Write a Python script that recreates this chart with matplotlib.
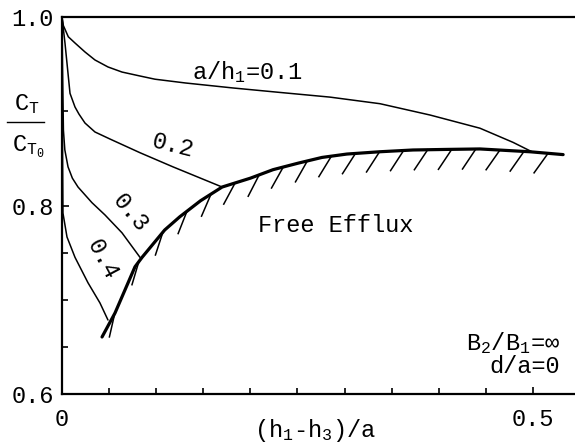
import numpy as np
import matplotlib
matplotlib.use("Agg")
import matplotlib.pyplot as plt
from matplotlib.lines import Line2D

plt.rcParams['font.family'] = ['Liberation Mono', 'DejaVu Sans Mono']
plt.rcParams['mathtext.default'] = 'regular'

# curves: x = (h1-h3)/a, y = CT/CT0
x_01 = [0, 0.0014, 0.0067, 0.0138, 0.0244, 0.035, 0.0488, 0.0637, 0.0828, 0.0987, 0.131, 0.1815,
        0.231, 0.2845, 0.3376, 0.3907, 0.4437, 0.4788, 0.4989]
y_01 = [1.0, 0.991, 0.979, 0.9724, 0.9629, 0.9544, 0.947, 0.9416, 0.9374, 0.934, 0.930, 0.9247,
        0.920, 0.915, 0.908, 0.896, 0.882, 0.867, 0.857]

x_02 = [0, 0.0032, 0.0067, 0.0085, 0.0138, 0.018, 0.0244, 0.035, 0.051, 0.0828, 0.1178, 0.170]
y_02 = [1.0, 0.972, 0.937, 0.919, 0.9045, 0.897, 0.8875, 0.878, 0.8705, 0.856, 0.841, 0.8196]

x_03 = [0, 0.0005, 0.0015, 0.003, 0.0064, 0.011, 0.017, 0.0318, 0.0456, 0.0637, 0.0828]
y_03 = [1.0, 0.95, 0.88, 0.859, 0.841, 0.829, 0.8196, 0.803, 0.790, 0.771, 0.745]

x_04 = [0, 0.0003, 0.001, 0.0053, 0.0138, 0.0276, 0.0403, 0.0488]
y_04 = [1.0, 0.90, 0.792, 0.7666, 0.745, 0.718, 0.6966, 0.6785]

x_free = [0.0425, 0.0563, 0.0775, 0.085, 0.109, 0.125, 0.147, 0.170, 0.200, 0.224, 0.251, 0.276,
          0.3025, 0.337, 0.3726, 0.408, 0.4437, 0.497, 0.532]
y_free = [0.6605, 0.686, 0.735, 0.745, 0.774, 0.788, 0.805, 0.8196, 0.829, 0.838, 0.845, 0.851,
          0.8546, 0.857, 0.8589, 0.8595, 0.860, 0.857, 0.854]

curve_labels = ['a/h$_1$=0.1', '0.2', '0.3', '0.4']

fig = plt.figure(figsize=(5.75, 4.48), dpi=100)
ax = fig.add_axes([62/575, 54/448, 513/575, 377/448])
ax.set_xlim(0, 0.5446)
ax.set_ylim(0.6, 1.0)

for xs, ys in [(x_01, y_01), (x_02, y_02), (x_03, y_03), (x_04, y_04)]:
    ax.plot(xs, ys, color='black', lw=1.1, solid_capstyle='round', solid_joinstyle='round')

ax.plot(x_free, y_free, color='black', lw=2.3, solid_capstyle='round', solid_joinstyle='round')

# hatching below the free efflux boundary
xf = np.array(x_free)
yf = np.array(y_free)
hx = np.linspace(0.056, 0.516, 19)
hy = np.interp(hx, xf, yf)
dx = 0.004
slope = (np.interp(hx + dx, xf, yf) - np.interp(hx - dx, xf, yf)) / (2 * dx)
tang = np.degrees(np.arctan(slope))
ang = np.radians(236 + 0.33 * tang)
hl = 0.0255
for x0, y0, a in zip(hx, hy, ang):
    ax.plot([x0, x0 + hl * np.cos(a)], [y0, y0 + hl * np.sin(a)], color='black', lw=1.1)

fs = 17
ax.text(0.197, 0.942, curve_labels[0], fontsize=fs, ha='center', va='center')
ax.text(0.118, 0.863, curve_labels[1], fontsize=fs, ha='center', va='center', rotation=-14)
ax.text(0.072, 0.792, curve_labels[2], fontsize=fs, ha='center', va='center', rotation=-50)
ax.text(0.0425, 0.743, curve_labels[3], fontsize=fs, ha='center', va='center', rotation=-62)
ax.text(0.291, 0.779, 'Free Efflux', fontsize=fs, ha='center', va='center')
ax.text(0.529, 0.654, 'B$_2$/B$_1$=\u221e', fontsize=fs, ha='right', va='center')
ax.text(0.529, 0.629, 'd/a=0', fontsize=fs, ha='right', va='center')

ax.spines['right'].set_visible(False)
for s in ['left', 'top', 'bottom']:
    ax.spines[s].set_linewidth(1.6)

ax.set_xticks([0, 0.5])
ax.set_xticklabels(['0', '0.5'])
ax.set_xticks([0.05, 0.1, 0.15, 0.2, 0.25, 0.3, 0.35, 0.4, 0.45], minor=True)
ax.set_yticks([0.6, 0.8, 1.0])
ax.set_yticklabels(['0.6', '0.8', '1.0'])
ax.set_yticks([0.65, 0.7, 0.75, 0.9], minor=True)
ax.tick_params(which='both', direction='in', labelsize=fs, width=1.2)
ax.tick_params(which='major', length=5)
ax.tick_params(which='minor', length=4)
ax.tick_params(axis='x', pad=10)
ax.tick_params(axis='y', pad=6)

fig.text(0.548, 0.040, '(h$_1$-h$_3$)/a', fontsize=fs, ha='center', va='center')
fig.text(0.047, 0.768, 'C$_T$', fontsize=fs, ha='center', va='center')
fig.text(0.050, 0.672, 'C$_{T_0}$', fontsize=fs, ha='center', va='center')
fig.add_artist(Line2D([0.012, 0.077], [0.728, 0.728], color='black', lw=1.0))

fig.savefig('out.png', dpi=100)
